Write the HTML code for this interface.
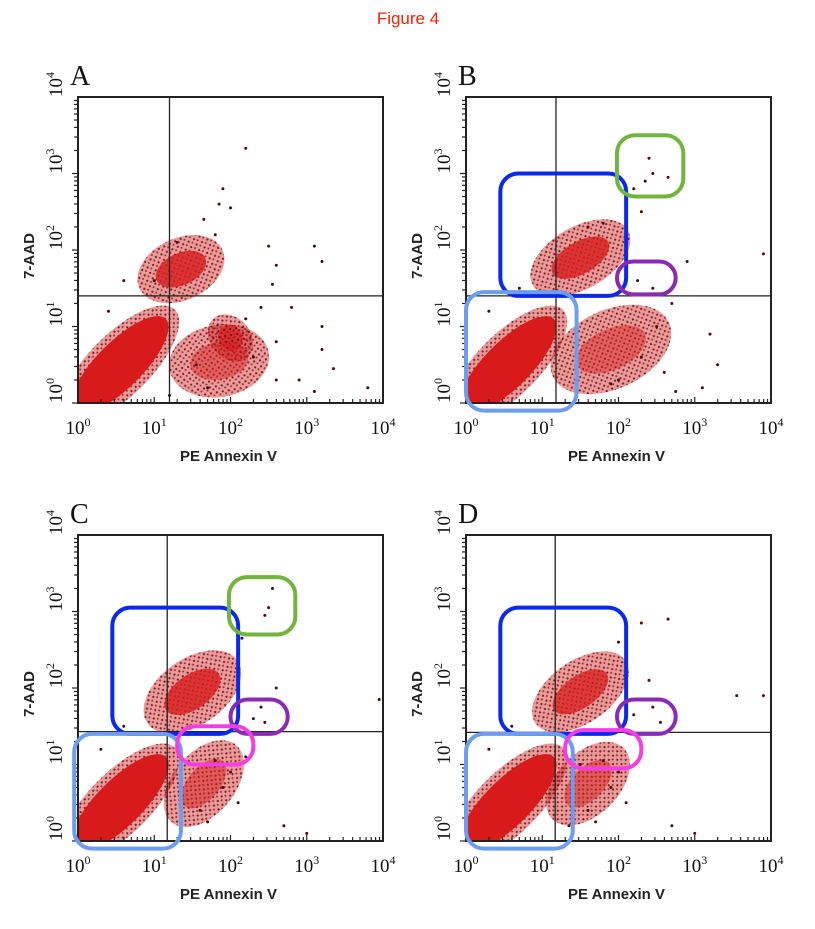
<!DOCTYPE html>
<html><head><meta charset="utf-8">
<style>
html,body{margin:0;padding:0;background:#fff;}
svg{display:block;}
.tick{font-family:"Liberation Serif",serif;font-size:19px;fill:#111;}
.sup{font-size:12px;}
.atitle{font-family:"Liberation Sans",sans-serif;font-weight:bold;font-size:15px;fill:#222;}
.plet{font-family:"Liberation Serif",serif;font-size:28px;fill:#111;}
</style></head>
<body>
<svg id="fig" width="815" height="929" viewBox="0 0 815 929">
<defs>
<pattern id="speck" width="6" height="6" patternUnits="userSpaceOnUse">
<rect width="6" height="6" fill="#d42020" opacity="0.5"/>
<circle cx="1.5" cy="1.5" r="1.1" fill="#5a0a0a"/>
<circle cx="4.5" cy="4" r="1" fill="#9a1010"/>
</pattern>
</defs>
<text x="408" y="24" text-anchor="middle" font-family="Liberation Sans, sans-serif" font-size="17" fill="#ee2200">Figure 4</text>
</svg>
<script>
// Data in log10 units (decades) of PE Annexin V (x) and 7-AAD (y)
const tickExps = [0, 1, 2, 3, 4];
const panelLetters = ["A", "B", "C", "D"];
const quadX = [1.2, 1.18, 1.17, 1.17];
const quadY = [1.4, 1.4, 1.43, 1.42];
// clusters per panel: centre x, centre y, radius x, radius y, rotation (deg), density (0-1)
const clusterCx = [[0.55,1.35,2.0,1.85],[0.55,1.5,1.9],[0.55,1.5,1.65],[0.55,1.5,1.6]];
const clusterCy = [[0.5,1.75,0.85,0.55],[0.5,1.9,0.7],[0.5,1.95,0.75],[0.5,1.95,0.75]];
const clusterRx = [[0.85,0.5,0.22,0.55],[0.85,0.6,0.7],[0.85,0.6,0.55],[0.85,0.6,0.55]];
const clusterRy = [[0.3,0.3,0.25,0.35],[0.3,0.3,0.38],[0.3,0.32,0.3],[0.3,0.3,0.3]];
const clusterRot = [[45,25,40,10],[45,30,25],[45,35,50],[45,35,45]];
const clusterDen = [[1,0.8,0.7,0.45],[1,0.8,0.45],[1,0.8,0.5],[1,0.75,0.5]];
// scattered events per panel
const ptsX = [
 [2.2,1.85,1.9,2.0,1.65,1.8,2.5,2.6,2.55,3.1,3.2,2.6,3.2,3.35,3.8,3.1,2.6,1.2,0.4,0.6,2.8,2.4,3.2,2.9,1.55,1.7,2.3,2.2,1.3,1.0],
 [2.4,2.45,2.35,2.2,2.65,2.3,2.1,3.9,2.9,2.25,2.45,3.2,3.3,3.1,2.7,2.6,2.0,2.3,1.8,0.3,0.7,2.75,1.6,2.1,2.5,1.9],
 [2.55,2.5,2.45,2.15,2.6,2.4,3.95,2.45,2.3,2.2,1.8,2.0,1.5,1.9,2.1,1.6,0.3,0.6,2.7,3.0,1.35,1.7],
 [2.65,2.3,2.0,2.4,2.45,2.55,3.55,3.9,2.2,1.8,2.0,1.5,1.9,2.1,1.6,0.3,0.6,2.7,3.0,1.35,1.7]
];
const ptsY = [
 [3.33,2.6,2.8,2.55,2.4,2.2,2.05,1.8,1.55,2.05,1.85,0.8,1.0,0.45,0.2,0.15,0.3,0.1,1.2,1.6,1.25,1.25,0.7,0.3,0.5,0.2,0.6,1.1,2.1,1.6],
 [3.2,3.0,2.9,2.8,2.95,2.5,2.7,1.95,1.85,1.6,1.5,0.9,0.5,0.2,1.3,0.4,0.3,0.6,2.35,1.2,1.5,0.15,2.3,2.05,1.0,0.25],
 [3.3,3.05,2.95,2.65,2.0,1.75,1.85,1.55,1.6,1.1,1.05,0.9,1.0,0.7,0.5,0.4,1.2,1.5,0.2,0.1,0.2,0.25],
 [2.9,2.85,2.6,2.1,1.75,1.55,1.9,1.9,1.65,1.05,0.9,1.0,0.7,0.5,0.4,1.2,1.5,0.2,0.1,0.2,0.25]
];
// highlight gates (x0,y0,x1,y1 in decades) and colours
const gateX0 = [[],[0.45,0.0,1.98,1.98],[0.45,-0.05,1.98,2.0,1.3],[0.45,0.0,1.98,1.3]];
const gateY0 = [[],[1.4,-0.1,2.7,1.42],[1.4,-0.1,2.7,1.4,1.0],[1.4,-0.1,1.4,0.95]];
const gateX1 = [[],[2.1,1.45,2.85,2.75],[2.1,1.35,2.85,2.75,2.3],[2.1,1.4,2.75,2.3]];
const gateY1 = [[],[3.0,1.45,3.5,1.85],[3.05,1.4,3.45,1.85,1.5],[3.05,1.4,1.85,1.45]];
const gateColor = [[],["#0a28f0","#6b9df0","#72b53c","#8b2ab4"],["#0a28f0","#6b9df0","#72b53c","#8b2ab4","#f23ee4"],["#0a28f0","#6b9df0","#8b2ab4","#f23ee4"]];

const NS = "http://www.w3.org/2000/svg";
const svg = document.getElementById("fig");
const panelLeft = [78, 466, 78, 466];
const panelTop = [97, 97, 535, 535];
const PW = 305, PH = 306;
function mk(tag, attrs, parent) {
  const e = document.createElementNS(NS, tag);
  for (const k in attrs) e.setAttribute(k, attrs[k]);
  (parent || svg).appendChild(e);
  return e;
}
for (let p = 0; p < 4; p++) {
  const L = panelLeft[p], T = panelTop[p];
  const xs = v => L + v / 4 * PW;
  const ys = v => T + PH - v / 4 * PH;
  const g = mk("g", {});
  
  
  const clip = mk("clipPath", {id: "clip" + p}, g);
  mk("rect", {x: L, y: T, width: PW, height: PH}, clip);
  const dg = mk("g", {"clip-path": "url(#clip" + p + ")"}, g);
  for (let i = 0; i < clusterCx[p].length; i++) {
    const cx = xs(clusterCx[p][i]), cy = ys(clusterCy[p][i]);
    const rx = clusterRx[p][i] / 4 * PW, ry = clusterRy[p][i] / 4 * PH;
    const den = clusterDen[p][i];
    const rot = "rotate(" + (-clusterRot[p][i]) + " " + cx + " " + cy + ")";
    const o = mk("ellipse", {cx: cx, cy: cy, rx: rx * 1.2, ry: ry * 1.35, fill: "url(#speck)", opacity: 0.9, transform: rot}, dg);
    
    
    const e = mk("ellipse", {cx: cx, cy: cy, rx: rx * (den > 0.9 ? 1 : 0.7), ry: ry * (den > 0.9 ? 1 : 0.7), fill: "#d81a1a", opacity: den, transform: rot}, dg);
    
    
  }
  for (let i = 0; i < ptsX[p].length; i++) {
    const c = mk("circle", {cx: xs(ptsX[p][i]), cy: ys(ptsY[p][i]), r: 1.5, fill: "#4a0a0a"}, dg);
    
    
  }
  const ql = mk("line", {x1: xs(quadX[p]), x2: xs(quadX[p]), y1: T, y2: T + PH, stroke: "#222", "stroke-width": 1.3}, g);
  
  
  const qh = mk("line", {x1: L, x2: L + PW, y1: ys(quadY[p]), y2: ys(quadY[p]), stroke: "#222", "stroke-width": 1.3}, g);
  
  
  const fr = mk("rect", {x: L, y: T, width: PW, height: PH, fill: "none", stroke: "#222", "stroke-width": 2}, g);
  
  
  for (let d = 0; d < 4; d++) {
    for (let m = 1; m <= 9; m++) {
      const v = d + Math.log10(m);
      const len = m === 1 ? 6 : 4;
      mk("line", {x1: L - len, x2: L, y1: ys(v), y2: ys(v), stroke: "#222", "stroke-width": 1.2}, g);
      mk("line", {x1: xs(v), x2: xs(v), y1: T + PH, y2: T + PH - len, stroke: "#222", "stroke-width": 1.2}, g);
    }
  }
  for (const t of tickExps) {
    const tx = mk("text", {x: xs(t), y: T + PH + 31, "text-anchor": "middle", class: "tick"}, g);
    
    
    tx.innerHTML = '10<tspan class="sup" dy="-8">' + t + '</tspan>';
    const ty = mk("text", {x: 0, y: 0, "text-anchor": "start", class: "tick", transform: "translate(" + (L - 16) + "," + ys(t) + ") rotate(-90)"}, g);
    
    
    ty.innerHTML = '10<tspan class="sup" dy="-8">' + t + '</tspan>';
  }
  const xt = mk("text", {x: L + PW / 2 - 2, y: T + PH + 58, "text-anchor": "middle", class: "atitle"}, g);
  
  
  xt.textContent = "PE Annexin V";
  const yt = mk("text", {x: 0, y: 0, "text-anchor": "middle", class: "atitle", transform: "translate(" + (L - 44) + "," + (T + PH / 2 + 6) + ") rotate(-90)"}, g);
  
  
  yt.textContent = "7-AAD";
  const pl = mk("text", {x: L - 8, y: T - 12, class: "plet"}, g);
  
  
  pl.textContent = panelLetters[p];
  for (let i = 0; i < gateColor[p].length; i++) {
    const x0 = xs(gateX0[p][i]), x1 = xs(gateX1[p][i]), y0 = ys(gateY1[p][i]), y1 = ys(gateY0[p][i]);
    const w = x1 - x0, h = y1 - y0;
    const r = Math.min(18, h / 2);
    const gr = mk("rect", {x: x0, y: y0, width: w, height: h, rx: r, ry: r, fill: "none", stroke: gateColor[p][i], "stroke-width": 4}, g);
    
    
  }
}
</script>
</body></html>
